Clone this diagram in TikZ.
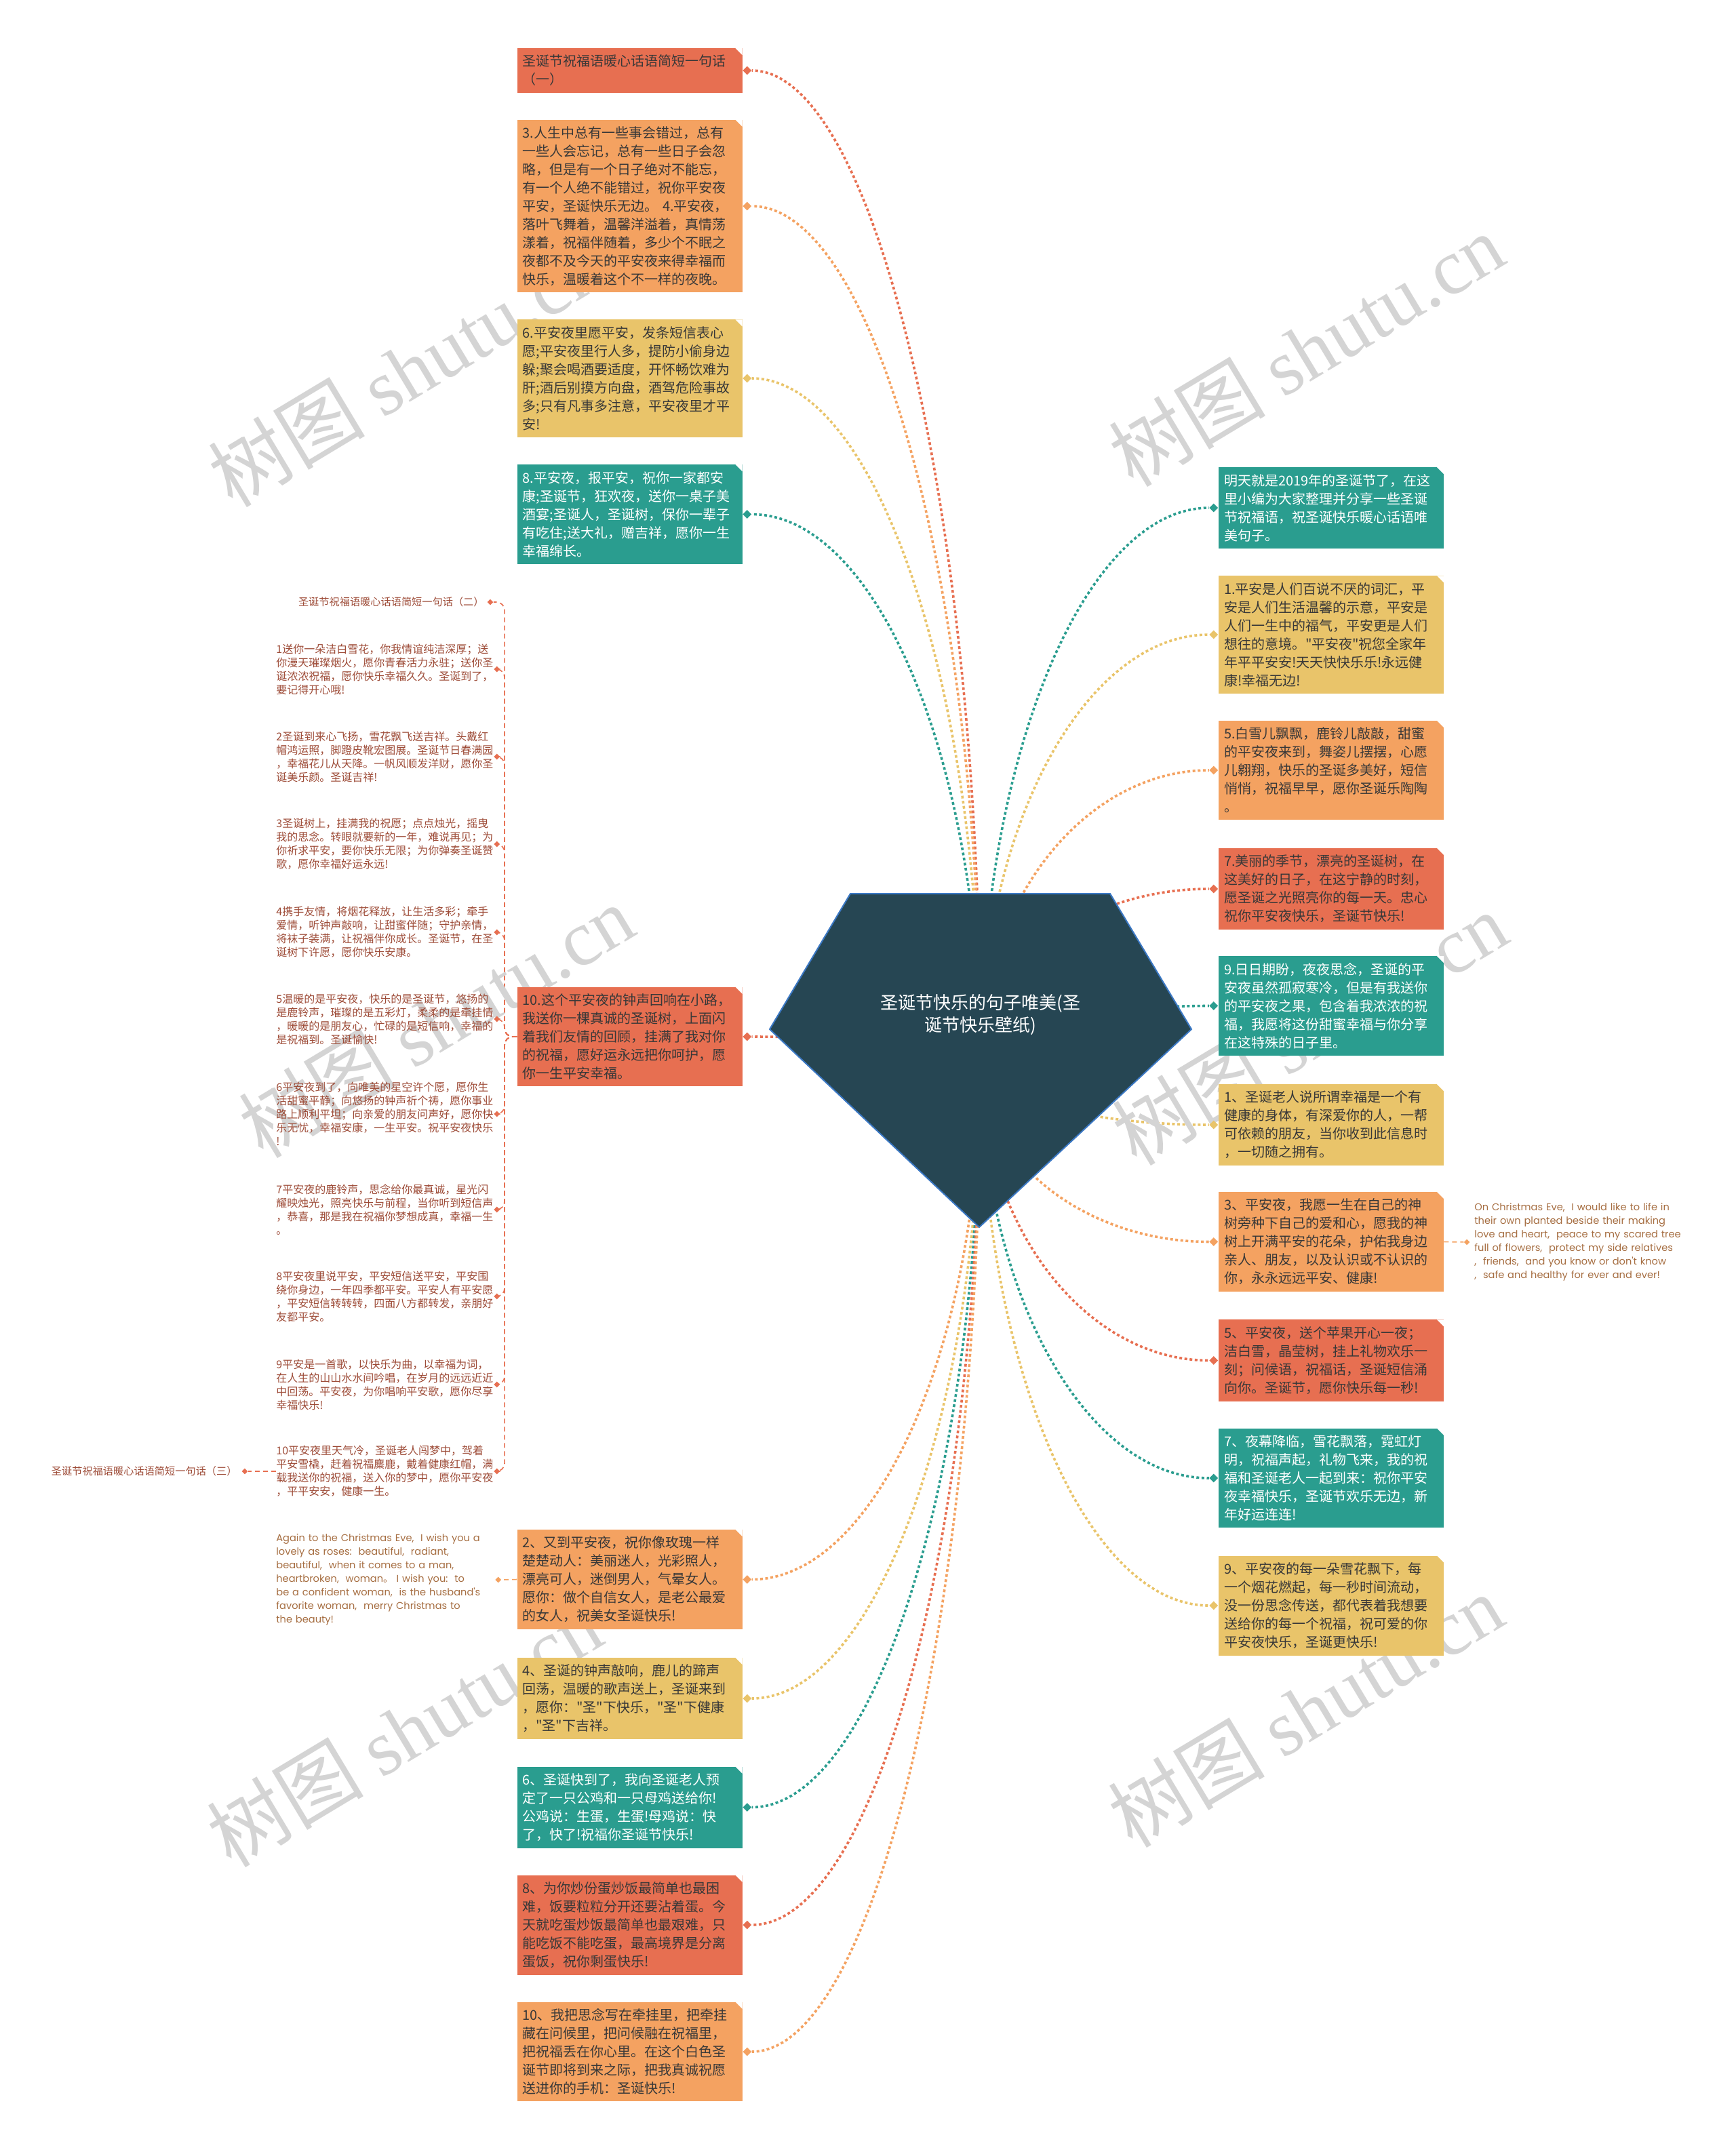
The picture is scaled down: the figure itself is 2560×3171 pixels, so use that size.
\documentclass[tikz,border=0pt]{standalone}
\usepackage{fontspec}
\newfontfamily\cjk{Noto Sans CJK SC}
\newfontfamily\engfont{Poppins}
\newfontfamily\wmfont{Liberation Serif}
\usepackage{tikz}
\usetikzlibrary{shapes.geometric, positioning, calc, backgrounds}
\definecolor{mSlate}{HTML}{264653}
\definecolor{mTeal}{HTML}{2A9D8F}
\definecolor{mSand}{HTML}{E9C46A}
\definecolor{mOrange}{HTML}{F4A261}
\definecolor{mRed}{HTML}{E76F51}
\definecolor{mEdge}{HTML}{3B78C4}
\colorlet{inkdark}{black!78}
\colorlet{redink}{mRed!68!black}
\colorlet{orangeink}{mOrange!68!black}
\newcommand{\branch}[2]{\draw[lvl1=#1] (ctr) .. controls ($(ctr)!0.55!(ctr |- #2)$) and ($(#2)!0.55!(ctr |- #2)$) .. (#2);}

\begin{document}
\begin{tikzpicture}[x=0.5pt, y=-0.5pt,
  card/.style={fill=#1, text=inkdark, font=\cjk\fontsize{10}{13.5}\selectfont, text width=158pt, inner xsep=4pt, inner ysep=5pt, align=left,
    path picture={\fill[white] (path picture bounding box.north east) -- ++(-5pt,0pt) -- ++(5pt,-5pt) -- cycle;}},
  knob/.style={diamond, fill=#1, inner sep=0pt, minimum size=6.5pt},
  knob2/.style={diamond, fill=#1, inner sep=0pt, minimum size=4.5pt},
  note/.style={text=#1, font=\cjk\fontsize{8}{10}\selectfont, text width=158pt, inner sep=0pt, align=left},
  engnote/.style={text=orangeink, font=\engfont\fontsize{7.3}{10}\selectfont, text width=160pt, inner sep=0pt, align=left},
  lvl1/.style={draw=#1, line width=1.8pt, dash pattern=on 2pt off 1.8pt},
  lvl2/.style={draw=#1, line width=0.8pt, dash pattern=on 3.5pt off 2.5pt, rounded corners=6pt},
  gem/.style={fill=mSlate, draw=mEdge, line width=1pt},
  wm/.style={rotate=31, text=black!17, font=\cjk\fontsize{58}{60}\selectfont}
]
  \useasboundingbox (0,0) rectangle (2560,3171);
  \coordinate (ctr) at (1446,1564);

  \filldraw[gem] (1254,1318) -- (1637,1318) -- (1757,1518) -- (1444,1810) -- (1135,1518) -- cycle;
  \node[text=white, font=\cjk\fontsize{13}{16.5}\selectfont, align=center] (root) at (1446,1497) {圣诞节快乐的句子唯美(圣\\诞节快乐壁纸)};

  \node[card=mRed] (L0) at (928.5,104) {圣诞节祝福语暖心话语简短一句话\\（一）};
  \node[card=mOrange] (L1) at (928.5,304) {3.人生中总有一些事会错过，总有\\一些人会忘记，总有一些日子会忽\\略，但是有一个日子绝对不能忘，\\有一个人绝不能错过，祝你平安夜\\平安，圣诞快乐无边。 4.平安夜，\\落叶飞舞着，温馨洋溢着，真情荡\\漾着，祝福伴随着，多少个不眠之\\夜都不及今天的平安夜来得幸福而\\快乐，温暖着这个不一样的夜晚。};
  \node[card=mSand] (L2) at (928.5,558) {6.平安夜里愿平安，发条短信表心\\愿;平安夜里行人多，提防小偷身边\\躲;聚会喝酒要适度，开怀畅饮难为\\肝;酒后别摸方向盘，酒驾危险事故\\多;只有凡事多注意，平安夜里才平\\安!};
  \node[card=mTeal, text=white] (L3) at (928.5,758.5) {8.平安夜，报平安，祝你一家都安\\康;圣诞节，狂欢夜，送你一桌子美\\酒宴;圣诞人，圣诞树，保你一辈子\\有吃住;送大礼，赠吉祥，愿你一生\\幸福绵长。};
  \node[card=mRed] (L4) at (928.5,1529) {10.这个平安夜的钟声回响在小路，\\我送你一棵真诚的圣诞树，上面闪\\着我们友情的回顾，挂满了我对你\\的祝福，愿好运永远把你呵护，愿\\你一生平安幸福。};
  \node[card=mOrange] (B0) at (928.5,2329.5) {2、又到平安夜，祝你像玫瑰一样\\楚楚动人：美丽迷人，光彩照人，\\漂亮可人，迷倒男人，气晕女人。\\愿你：做个自信女人，是老公最爱\\的女人，祝美女圣诞快乐!};
  \node[card=mSand] (B1) at (928.5,2505) {4、圣诞的钟声敲响，鹿儿的蹄声\\回荡，温暖的歌声送上，圣诞来到\\，愿你："圣"下快乐，"圣"下健康\\，"圣"下吉祥。};
  \node[card=mTeal, text=white] (B2) at (928.5,2665.5) {6、圣诞快到了，我向圣诞老人预\\定了一只公鸡和一只母鸡送给你!\\公鸡说：生蛋，生蛋!母鸡说：快\\了，快了!祝福你圣诞节快乐!};
  \node[card=mRed] (B3) at (928.5,2839) {8、为你炒份蛋炒饭最简单也最困\\难，饭要粒粒分开还要沾着蛋。今\\天就吃蛋炒饭最简单也最艰难，只\\能吃饭不能吃蛋，最高境界是分离\\蛋饭，祝你剩蛋快乐!};
  \node[card=mOrange] (B4) at (928.5,3026) {10、我把思念写在牵挂里，把牵挂\\藏在问候里，把问候融在祝福里，\\把祝福丢在你心里。在这个白色圣\\诞节即将到来之际，把我真诚祝愿\\送进你的手机：圣诞快乐!};

  \node[card=mTeal, text=white] (R0) at (1963,749) {明天就是2019年的圣诞节了，在这\\里小编为大家整理并分享一些圣诞\\节祝福语，祝圣诞快乐暖心话语唯\\美句子。};
  \node[card=mSand] (R1) at (1963,936) {1.平安是人们百说不厌的词汇，平\\安是人们生活温馨的示意，平安是\\人们一生中的福气，平安更是人们\\想往的意境。"平安夜"祝您全家年\\年平平安安!天天快快乐乐!永远健\\康!幸福无边!};
  \node[card=mOrange] (R2) at (1963,1136) {5.白雪儿飘飘，鹿铃儿敲敲，甜蜜\\的平安夜来到，舞姿儿摆摆，心愿\\儿翱翔，快乐的圣诞多美好，短信\\悄悄，祝福早早，愿你圣诞乐陶陶\\。};
  \node[card=mRed] (R3) at (1963,1311) {7.美丽的季节，漂亮的圣诞树，在\\这美好的日子，在这宁静的时刻，\\愿圣诞之光照亮你的每一天。忠心\\祝你平安夜快乐，圣诞节快乐!};
  \node[card=mTeal, text=white] (R4) at (1963,1483.5) {9.日日期盼，夜夜思念，圣诞的平\\安夜虽然孤寂寒冷，但是有我送你\\的平安夜之果，包含着我浓浓的祝\\福，我愿将这份甜蜜幸福与你分享\\在这特殊的日子里。};
  \node[card=mSand] (R5) at (1963,1659) {1、圣诞老人说所谓幸福是一个有\\健康的身体，有深爱你的人，一帮\\可依赖的朋友，当你收到此信息时\\，一切随之拥有。};
  \node[card=mOrange] (R6) at (1963,1831.5) {3、平安夜，我愿一生在自己的神\\树旁种下自己的爱和心，愿我的神\\树上开满平安的花朵，护佑我身边\\亲人、朋友，以及认识或不认识的\\你，永永远远平安、健康!};
  \node[card=mRed] (R7) at (1963,2006.5) {5、平安夜，送个苹果开心一夜；\\洁白雪，晶莹树，挂上礼物欢乐一\\刻；问候语，祝福话，圣诞短信涌\\向你。圣诞节，愿你快乐每一秒!};
  \node[card=mTeal, text=white] (R8) at (1963,2180) {7、夜幕降临，雪花飘落，霓虹灯\\明，祝福声起，礼物飞来，我的祝\\福和圣诞老人一起到来：祝你平安\\夜幸福快乐，圣诞节欢乐无边，新\\年好运连连!};
  \node[card=mSand] (R9) at (1963,2368) {9、平安夜的每一朵雪花飘下，每\\一个烟花燃起，每一秒时间流动，\\没一份思念传送，都代表着我想要\\送给你的每一个祝福，祝可爱的你\\平安夜快乐，圣诞更快乐!};

  \foreach \n/\c in {L0/mRed, L1/mOrange, L2/mSand, L3/mTeal, L4/mRed, B0/mOrange, B1/mSand, B2/mTeal, B3/mRed, B4/mOrange}
    \node[knob=\c, right=0pt of \n] (\n t) {};
  \foreach \n/\c in {R0/mTeal, R1/mSand, R2/mOrange, R3/mRed, R4/mTeal, R5/mSand, R6/mOrange, R7/mRed, R8/mTeal, R9/mSand}
    \node[knob=\c, left=0pt of \n] (\n t) {};

  \node[text=redink, font=\cjk\fontsize{7.6}{10}\selectfont, inner sep=0pt, anchor=east] (h2) at (714,888) {圣诞节祝福语暖心话语简短一句话（二）};
  \node[note=redink, anchor=west] (i1) at (407,987) {1送你一朵洁白雪花，你我情谊纯洁深厚；送\\你漫天璀璨烟火，愿你青春活力永驻；送你圣\\诞浓浓祝福，愿你快乐幸福久久。圣诞到了，\\要记得开心哦!};
  \node[note=redink, anchor=west] (i2) at (407,1116) {2圣诞到来心飞扬，雪花飘飞送吉祥。头戴红\\帽鸿运照，脚蹬皮靴宏图展。圣诞节日春满园\\，幸福花儿从天降。一帆风顺发洋财，愿你圣\\诞美乐颜。圣诞吉祥!};
  \node[note=redink, anchor=west] (i3) at (407,1245) {3圣诞树上，挂满我的祝愿；点点烛光，摇曳\\我的思念。转眼就要新的一年，难说再见；为\\你祈求平安，要你快乐无限；为你弹奏圣诞赞\\歌，愿你幸福好运永远!};
  \node[note=redink, anchor=west] (i4) at (407,1375) {4携手友情，将烟花释放，让生活多彩；牵手\\爱情，听钟声敲响，让甜蜜伴随；守护亲情，\\将袜子装满，让祝福伴你成长。圣诞节，在圣\\诞树下许愿，愿你快乐安康。};
  \node[note=redink, anchor=west] (i5) at (407,1503) {5温暖的是平安夜，快乐的是圣诞节，悠扬的\\是鹿铃声，璀璨的是五彩灯，柔柔的是牵挂情\\，暖暖的是朋友心，忙碌的是短信响，幸福的\\是祝福到。圣诞愉快!};
  \node[note=redink, anchor=west] (i6) at (407,1643) {6平安夜到了，向唯美的星空许个愿，愿你生\\活甜蜜平静；向悠扬的钟声祈个祷，愿你事业\\路上顺利平坦；向亲爱的朋友问声好，愿你快\\乐无忧，幸福安康，一生平安。祝平安夜快乐\\!};
  \node[note=redink, anchor=west] (i7) at (407,1784) {7平安夜的鹿铃声，思念给你最真诚，星光闪\\耀映烛光，照亮快乐与前程，当你听到短信声\\，恭喜，那是我在祝福你梦想成真，幸福一生\\。};
  \node[note=redink, anchor=west] (i8) at (407,1912) {8平安夜里说平安，平安短信送平安，平安围\\绕你身边，一年四季都平安。平安人有平安愿\\，平安短信转转转，四面八方都转发，亲朋好\\友都平安。};
  \node[note=redink, anchor=west] (i9) at (407,2042) {9平安是一首歌，以快乐为曲，以幸福为词，\\在人生的山山水水间吟唱，在岁月的远远近近\\中回荡。平安夜，为你唱响平安歌，愿你尽享\\幸福快乐!};
  \node[note=redink, anchor=west] (i10) at (407,2170) {10平安夜里天气冷，圣诞老人闯梦中，驾着\\平安雪橇，赶着祝福麋鹿，戴着健康红帽，满\\载我送你的祝福，送入你的梦中，愿你平安夜\\，平平安安，健康一生。};
  \node[text=redink, font=\cjk\fontsize{7.6}{10}\selectfont, inner sep=0pt, anchor=east] (h3) at (350,2170) {圣诞节祝福语暖心话语简短一句话（三）};
  \node[engnote, anchor=west] (e1) at (407,2330) {Again to the Christmas Eve,\ \ I wish you a\\ lovely as roses:\ \ beautiful,\ \ radiant,\\beautiful,\ \ when it comes to a man,\\heartbroken,\ \ woman{\cjk 。} I wish you:\ \ to\\be a confident woman,\ \ is the husband's\\ favorite woman,\ \ merry Christmas to\\the beauty!};
  \node[engnote, anchor=west] (e2) at (2174,1832) {On Christmas Eve,\ \ I would like to life in\\their own planted beside their making\\love and heart,\ \ peace to my scared tree\\full of flowers,\ \ protect my side relatives\\,\ \ friends,\ \ and you know or don't know\\,\ \ safe and healthy for ever and ever!};

  \foreach \n in {h2, i1, i2, i3, i4, i5, i6, i7, i8, i9, i10}
    \node[knob2=mRed, right=2pt of \n] (\n t) {};
  \node[knob2=mRed, right=3pt of h3] (h3t) {};
  \node[knob2=mOrange, right=1pt of e1] (e1t) {};
  \node[knob2=mOrange, left=3pt of e2] (e2t) {};

  \begin{scope}[on background layer]
    \branch{mRed}{L0t} \branch{mOrange}{L1t} \branch{mSand}{L2t} \branch{mTeal}{L3t} \branch{mRed}{L4t}
    \branch{mOrange}{B0t} \branch{mSand}{B1t} \branch{mTeal}{B2t} \branch{mRed}{B3t} \branch{mOrange}{B4t}
    \branch{mTeal}{R0t} \branch{mSand}{R1t} \branch{mOrange}{R2t} \branch{mRed}{R3t} \branch{mTeal}{R4t}
    \branch{mSand}{R5t} \branch{mOrange}{R6t} \branch{mRed}{R7t} \branch{mTeal}{R8t} \branch{mSand}{R9t}
    \foreach \n in {h2, i1, i2, i3, i4, i5, i6, i7, i8, i9, i10}
      \draw[lvl2=mRed] (L4.west) -- ++(-18,0) |- (\n t.east);
    \foreach \p [count=\k] in {(598,546), (1926,516), (643,1506), (1931,1517), (596,2552), (1925,2523)}
      \node[wm] (w\k) at \p {树图 {\wmfont shutu.cn}};
  \end{scope}
  \draw[lvl2=mRed] (i10.west) -- (h3t);
  \draw[lvl2=mOrange] (B0.west) -- (e1t);
  \draw[lvl2=mOrange] (R6.east) -- (e2t);
\end{tikzpicture}
\end{document}
